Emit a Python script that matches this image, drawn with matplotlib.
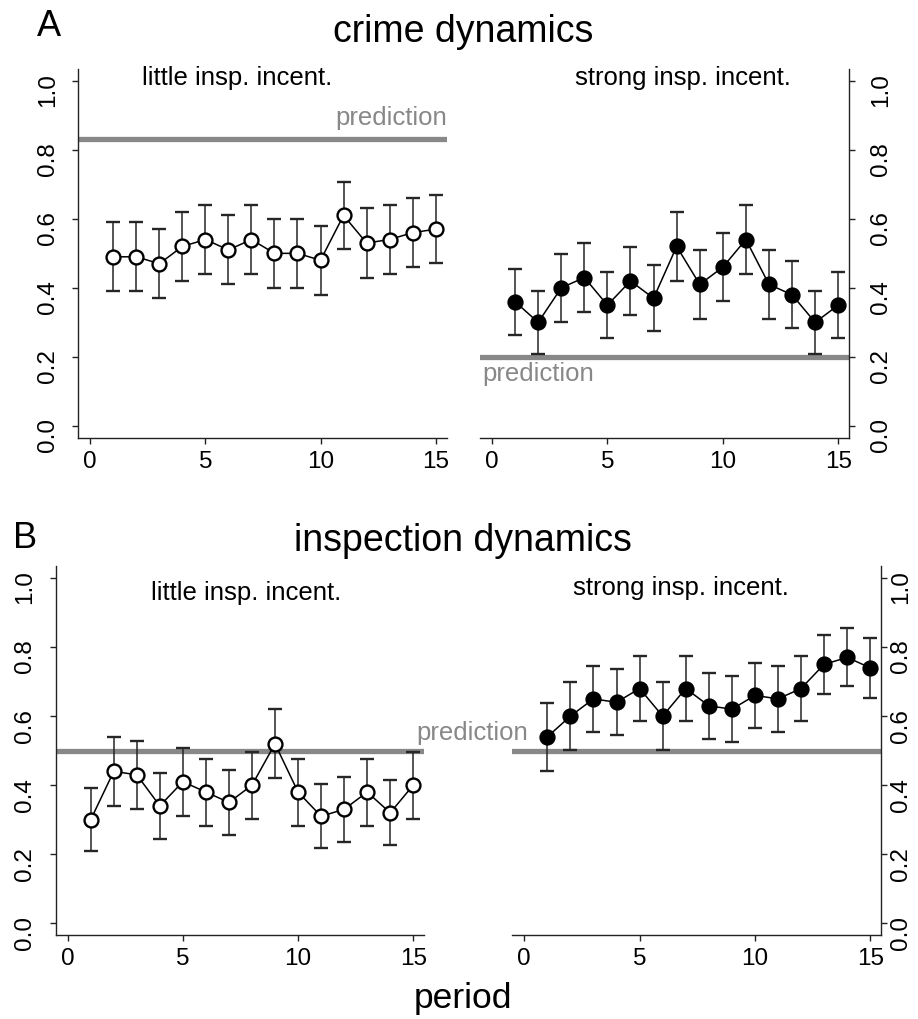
import numpy as np
import matplotlib
matplotlib.use("Agg")
import matplotlib.pyplot as plt

plt.rcParams["font.family"] = ["Liberation Sans", "DejaVu Sans"]

# data
periods = np.arange(1, 16)

crime_little = [0.49, 0.49, 0.47, 0.52, 0.54, 0.51, 0.54, 0.50, 0.50, 0.48,
                0.61, 0.53, 0.54, 0.56, 0.57]
crime_little_err = [0.100, 0.100, 0.100, 0.100, 0.100, 0.100, 0.100, 0.100,
                    0.100, 0.100, 0.097, 0.100, 0.100, 0.100, 0.099]
crime_strong = [0.36, 0.30, 0.40, 0.43, 0.35, 0.42, 0.37, 0.52, 0.41, 0.46,
                0.54, 0.41, 0.38, 0.30, 0.35]
crime_strong_err = [0.096, 0.092, 0.098, 0.099, 0.095, 0.098, 0.096, 0.099,
                    0.099, 0.099, 0.100, 0.099, 0.097, 0.092, 0.095]

insp_little = [0.30, 0.44, 0.43, 0.34, 0.41, 0.38, 0.35, 0.40, 0.52, 0.38,
               0.31, 0.33, 0.38, 0.32, 0.40]
insp_little_err = [0.091, 0.099, 0.098, 0.095, 0.098, 0.097, 0.095, 0.097,
                   0.100, 0.097, 0.092, 0.094, 0.097, 0.094, 0.097]
insp_strong = [0.54, 0.60, 0.65, 0.64, 0.68, 0.60, 0.68, 0.63, 0.62, 0.66,
               0.65, 0.68, 0.75, 0.77, 0.74]
insp_strong_err = [0.099, 0.098, 0.095, 0.096, 0.093, 0.098, 0.093, 0.096,
                   0.096, 0.095, 0.095, 0.093, 0.086, 0.084, 0.087]

pred_crime_little = 0.83
pred_crime_strong = 0.20
pred_insp = 0.50

yticks = [0.0, 0.2, 0.4, 0.6, 0.8, 1.0]
xticks = [0, 5, 10, 15]

W, H = 918, 1020
fig = plt.figure(figsize=(W / 100, H / 100), dpi=100)


def box(x0, y0, x1, y1):
    """pixel box (top-left origin) -> figure fraction rect"""
    return [x0 / W, 1 - y1 / H, (x1 - x0) / W, (y1 - y0) / H]


def panel(rect, vals, errs, pred, filled, side, ypad, title, title_x, title_y):
    ax = fig.add_axes(rect)
    ax.axhline(pred, color="#888888", lw=3.8, zorder=1)
    ax.errorbar(
        periods, vals, yerr=errs,
        fmt="-o", color="black", lw=1.1,
        ms=10, mew=1.7, mec="black",
        mfc="black" if filled else "white",
        ecolor="#262626", elinewidth=1.1, capsize=5, capthick=1.1,
        zorder=3,
    )
    ax.set_xlim(-0.52, 15.48)
    ax.set_ylim(-0.034, 1.034)
    ax.set_xticks(xticks)
    ax.set_yticks(yticks)
    ax.set_yticklabels([f"{v:.1f}" for v in yticks])
    for s in ["top", "left", "right"]:
        ax.spines[s].set_visible(False)
    ax.spines[side].set_visible(True)
    for s in ["bottom", side]:
        ax.spines[s].set_color("#222222")
        ax.spines[s].set_linewidth(1.0)
    if side == "right":
        ax.yaxis.tick_right()
    ax.tick_params(axis="y", labelrotation=90, length=4, width=1,
                   pad=ypad, labelsize=17.5, color="#222222")
    ax.tick_params(axis="x", length=4, width=1, pad=5, labelsize=17.5,
                   color="#222222")
    ax.text(title_x, title_y, title, fontsize=18.5, ha="center",
            va="baseline", transform=ax.transAxes)
    return ax


# panel A: crime dynamics
axA1 = panel(box(78.3, 70, 446.7, 438.7), crime_little, crime_little_err,
             pred_crime_little, False, "left", 10,
             "little insp. incent.", 0.432, 0.96)
axA2 = panel(box(480, 70, 849.3, 438.7), crime_strong, crime_strong_err,
             pred_crime_strong, True, "right", 11,
             "strong insp. incent.", 0.55, 0.96)

# panel B: inspection dynamics
axB1 = panel(box(55.7, 567.3, 424.3, 936), insp_little, insp_little_err,
             pred_insp, False, "left", 10,
             "little insp. incent.", 0.517, 0.91)
axB2 = panel(box(512.3, 567.3, 881.3, 936), insp_strong, insp_strong_err,
             pred_insp, True, "right", 2,
             "strong insp. incent.", 0.458, 0.925)

# "prediction" labels
axA1.text(15.48, pred_crime_little + 0.045, "prediction", color="#888888",
          fontsize=18.5, ha="right", va="baseline")
axA2.text(-0.4, pred_crime_strong - 0.067, "prediction", color="#888888",
          fontsize=18.5, ha="left", va="baseline")
axB2.text(0.17, pred_insp + 0.033, "prediction", color="#888888",
          fontsize=18.5, ha="right", va="baseline")

# headings
fig.text(37 / W, 1 - 36 / H, "A", fontsize=26, ha="left", va="baseline")
fig.text(463 / W, 1 - 42 / H, "crime dynamics", fontsize=27,
         ha="center", va="baseline")
fig.text(13 / W, 1 - 548 / H, "B", fontsize=26, ha="left", va="baseline")
fig.text(463 / W, 1 - 551 / H, "inspection dynamics", fontsize=27,
         ha="center", va="baseline")
fig.text(463 / W, 1 - 1008 / H, "period", fontsize=25.5,
         ha="center", va="baseline")

fig.savefig("out.png", dpi=100, facecolor="white")
